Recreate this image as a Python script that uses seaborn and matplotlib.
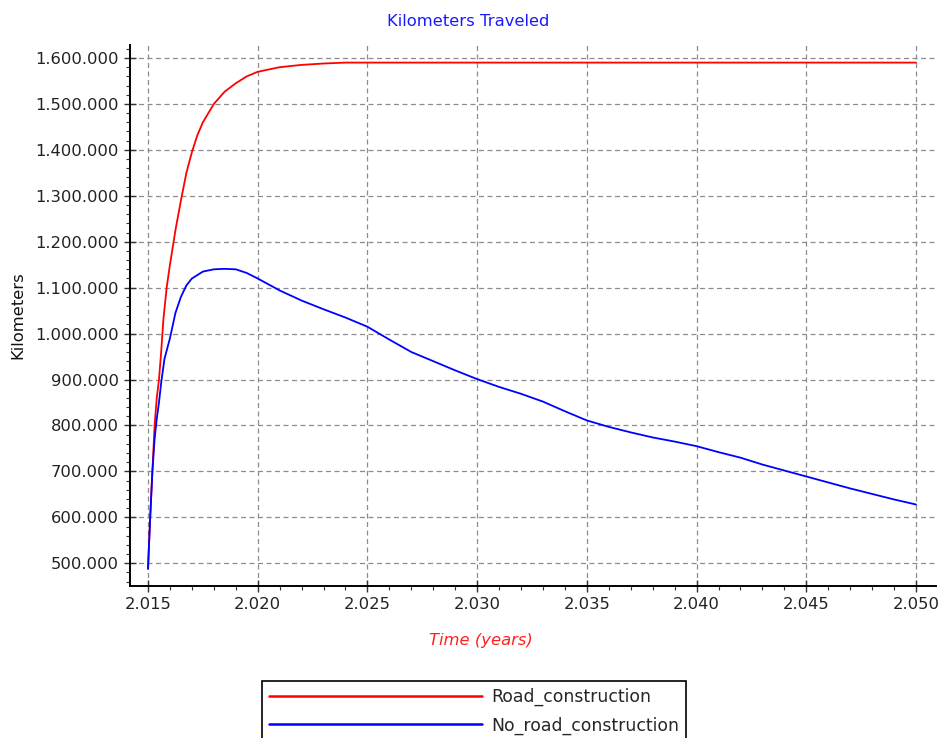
import matplotlib
matplotlib.use("Agg")
import matplotlib.pyplot as plt
import matplotlib.ticker as mticker
import seaborn as sns
import pandas as pd

# Data
road_years = [2015.0, 2015.1, 2015.2, 2015.3, 2015.4, 2015.5, 2015.6, 2015.7, 2015.85,
              2016.0, 2016.25, 2016.5, 2016.75, 2017.0, 2017.25, 2017.5, 2018.0, 2018.5,
              2019.0, 2019.5, 2020.0, 2021.0, 2022.0, 2023.0, 2024.0, 2025.0, 2050.0]
road_km = [488000, 600000, 700000, 800000, 860000, 900000, 960000, 1030000, 1100000,
           1150000, 1225000, 1290000, 1350000, 1395000, 1432000, 1460000, 1500000, 1527000,
           1545000, 1560000, 1570000, 1580000, 1585000, 1588000, 1590000, 1590000, 1590000]

noroad_years = [2015.0, 2015.05, 2015.1, 2015.2, 2015.3, 2015.4, 2015.5, 2015.6, 2015.75,
                2016.0, 2016.25, 2016.5, 2016.75, 2017.0, 2017.5, 2018.0, 2018.5, 2019.0,
                2019.5, 2020, 2021, 2022, 2023, 2024, 2025, 2026, 2027, 2028, 2029, 2030,
                2031, 2032, 2033, 2034, 2035, 2036, 2037, 2038, 2039, 2040,
                2041, 2042, 2043, 2044, 2045, 2046, 2047, 2048, 2049, 2050]
noroad_km = [488000, 545000, 600000, 700000, 770000, 815000, 850000, 893000, 945000,
             990000, 1045000, 1080000, 1105000, 1120000, 1135000, 1140000, 1141000, 1140000,
             1132000, 1120000, 1094000, 1072000, 1053000, 1035000, 1015000, 987000, 960000,
             940000, 920000, 901000, 884000, 869000, 852000, 831000, 811000, 797000, 785000,
             774000, 765000, 755000, 742000, 730000, 715000, 702000, 689000, 676000, 663000,
             651000, 639000, 628000]

series_names = ["Road_construction", "No_road_construction"]
series_colors = ["#ff0000", "#0000ff"]

# Plot settings
sns.set_theme(style="white")
plt.rcParams["font.family"] = ["DejaVu Sans"]

fig = plt.figure(figsize=(9.38, 7.38), dpi=100)
ax = fig.add_axes([130 / 938, 1 - 586 / 738, (936 - 130) / 938, (586 - 45) / 738])

road_df = pd.DataFrame({"year": road_years, "km": road_km})
noroad_df = pd.DataFrame({"year": noroad_years, "km": noroad_km})

sns.lineplot(data=road_df, x="year", y="km", ax=ax, color=series_colors[0],
             linewidth=1.3, label=series_names[0])
sns.lineplot(data=noroad_df, x="year", y="km", ax=ax, color=series_colors[1],
             linewidth=1.3, label=series_names[1])

ax.set_xlim(2015 - 18 / 21.94, 2050 + 20 / 21.94)
ax.set_ylim(450600, 1628300)

ax.xaxis.set_major_locator(mticker.MultipleLocator(5))
ax.xaxis.set_minor_locator(mticker.MultipleLocator(1))
ax.yaxis.set_major_locator(mticker.MultipleLocator(100000))
ax.yaxis.set_minor_locator(mticker.MultipleLocator(20000))

dot_fmt = mticker.FuncFormatter(lambda v, pos: f"{int(round(v)):,}".replace(",", "."))
ax.xaxis.set_major_formatter(dot_fmt)
ax.yaxis.set_major_formatter(dot_fmt)

ax.tick_params(axis="both", which="major", direction="inout", length=8, width=1,
               color="#333333", labelsize=11.8, labelcolor="#222222", pad=4,
               bottom=True, left=True)
ax.tick_params(axis="both", which="minor", direction="out", length=3, width=0.8,
               color="#333333", bottom=True, left=True)

ax.grid(True, which="major", color="#8c8c8c", linestyle=(0, (4, 2.8)), linewidth=0.9)

for side in ["top", "right"]:
    ax.spines[side].set_visible(False)
for side in ["left", "bottom"]:
    ax.spines[side].set_color("black")
    ax.spines[side].set_linewidth(1.4)

ax.set_title("Kilometers Traveled", color="#1a1aff", fontsize=11.8, pad=14, x=0.419)
ax.set_xlabel("Time (years)", color="#ff2020", fontstyle="italic", fontsize=11.8,
              labelpad=15, x=0.435)
ax.set_ylabel("Kilometers", color="#111111", fontsize=11.8, labelpad=7)

leg = ax.legend(loc="upper center", bbox_to_anchor=(474 / 938, 1 - 681 / 738),
                bbox_transform=fig.transFigure, borderaxespad=0, fontsize=12.4,
                handlelength=12.4, handletextpad=0.5, labelspacing=0.6, borderpad=0.4,
                fancybox=False, framealpha=1, edgecolor="black")
leg.get_frame().set_linewidth(1.2)
for line in leg.get_lines():
    line.set_linewidth(1.8)

plt.savefig("out.png", dpi=100)
